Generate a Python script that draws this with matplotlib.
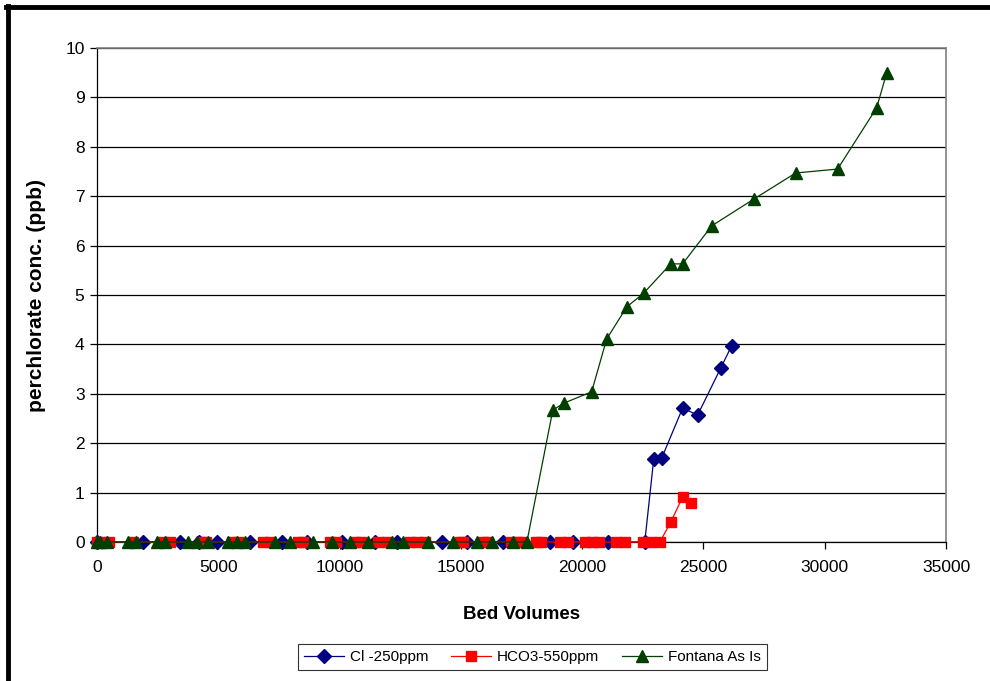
import matplotlib
matplotlib.use('Agg')
import matplotlib.pyplot as plt
from matplotlib.lines import Line2D

plt.rcParams['font.family'] = ['Liberation Sans', 'DejaVu Sans']

# Cl -250ppm (blue diamonds)
cl_bv = [0, 1900, 3420, 4200, 4940, 6300, 7620, 8650, 10090, 11450, 12360,
         14210, 15240, 16730, 18660, 19610, 21050, 22580,
         22950, 23280, 24140, 24760, 25710, 26160]
cl_conc = [0] * 18 + [1.68, 1.70, 2.71, 2.57, 3.52, 3.97]

# HCO3-550ppm (red squares)
hco3_bv = [0, 200, 500, 1500, 2700, 3000, 4300, 4500, 5550, 5800, 6850,
           7150, 8300, 8500, 9600, 9850, 10650, 10900, 11600, 11950, 12900,
           13200, 13500, 14950, 15100, 15900, 16100, 17050, 17300, 17500,
           18100, 18300, 19100, 19400, 20100, 20400, 20700, 21400, 21750,
           22500, 22850, 23200,
           23650, 24140, 24470]
hco3_conc = [0] * 42 + [0.40, 0.91, 0.79]

# Fontana As Is (green triangles)
fontana_bv = [0, 120, 410, 1280, 1610, 2470, 2800, 3750, 4120, 4580, 5400,
              5770, 6100, 7330, 7950, 8900, 9680, 10420, 11170, 12150, 12610,
              13640, 14670, 15660, 16270, 17140, 17720,
              18790, 19240, 20390, 21010, 21840, 22540, 23650, 24140, 25340,
              27070, 28800, 30530, 32140, 32550]
fontana_conc = [0] * 27 + [2.67, 2.81, 3.04, 4.11, 4.76, 5.04, 5.63, 5.63,
                           6.40, 6.94, 7.47, 7.55, 8.79, 9.49]

fig = plt.figure(figsize=(9.9, 6.81), dpi=100)
ax = fig.add_axes([0.098, 0.2041, 0.8576, 0.7254])

ax.plot(cl_bv, cl_conc, color='#000080', lw=0.9, marker='D', ms=7,
        label='Cl -250ppm', clip_on=False, zorder=3)
ax.plot(hco3_bv, hco3_conc, color='#ff0000', lw=0.9, marker='s', ms=7.5,
        label='HCO3-550ppm', clip_on=False, zorder=4)
ax.plot(fontana_bv, fontana_conc, color='#003f00', lw=0.9, marker='^', ms=9,
        label='Fontana As Is', clip_on=False, zorder=5)

ax.set_xlim(0, 35000)
ax.set_ylim(0, 10)
ax.set_xticks(range(0, 35001, 5000))
ax.set_yticks(range(0, 11))
ax.yaxis.grid(True, color='black', lw=0.9)
ax.set_axisbelow(True)
ax.tick_params(direction='out', length=5, width=0.9, labelsize=12.5,
               colors='black', pad=4)
ax.tick_params(axis='x', pad=8)

for s in ['top', 'right']:
    ax.spines[s].set_color('#808080')
    ax.spines[s].set_linewidth(1.2)
for s in ['left', 'bottom']:
    ax.spines[s].set_color('black')
    ax.spines[s].set_linewidth(0.9)

ax.set_xlabel('Bed Volumes', fontsize=13.5, fontweight='bold', labelpad=22)
ax.set_ylabel('perchlorate conc. (ppb)', fontsize=15, fontweight='bold',
              labelpad=14)

leg = fig.legend(loc='center', bbox_to_anchor=(0.538, 0.035), ncol=3,
                 fontsize=11, frameon=True, fancybox=False,
                 edgecolor='black', handlelength=2.6, columnspacing=1.5,
                 handletextpad=0.4, borderpad=0.4)
leg.get_frame().set_linewidth(0.8)

# thick border on top and left of the picture
fig.add_artist(Line2D([0.006, 1.0], [0.9895, 0.9895], color='black', lw=3.5))
fig.add_artist(Line2D([0.0085, 0.0085], [0.0, 0.9915], color='black', lw=3.5))

fig.savefig('out.png', dpi=100)
